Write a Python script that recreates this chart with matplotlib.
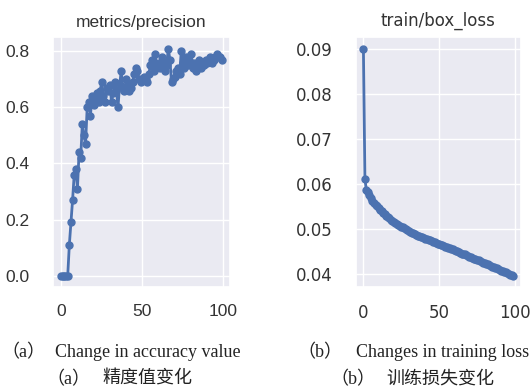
import matplotlib
matplotlib.use("Agg")
import matplotlib.pyplot as plt
import seaborn as sns

# epochs 0..99
epochs = list(range(100))

precision = [
    0.00, 0.00, 0.00, 0.00, 0.00, 0.11, 0.19, 0.27, 0.36, 0.38,
    0.31, 0.44, 0.42, 0.54, 0.50, 0.47, 0.60, 0.62, 0.57, 0.64,
    0.61, 0.63, 0.65, 0.62, 0.66, 0.69, 0.64, 0.62, 0.67, 0.66,
    0.68, 0.62, 0.65, 0.69, 0.66, 0.60, 0.68, 0.73, 0.67, 0.66,
    0.70, 0.68, 0.66, 0.67, 0.69, 0.72, 0.74, 0.73, 0.70, 0.69,
    0.70, 0.71, 0.70, 0.69, 0.72, 0.75, 0.77, 0.73, 0.79, 0.75,
    0.76, 0.74, 0.78, 0.76, 0.73, 0.75, 0.81, 0.77, 0.69, 0.70,
    0.71, 0.73, 0.74, 0.72, 0.80, 0.76, 0.74, 0.78, 0.75, 0.77,
    0.79, 0.74, 0.76, 0.73, 0.75, 0.77, 0.74, 0.76, 0.75, 0.77,
    0.76, 0.77, 0.78, 0.76, 0.77, 0.78, 0.79, 0.78, 0.78, 0.77,
]

box_loss = [
    0.0900, 0.0610, 0.0585, 0.0582, 0.0575, 0.0568, 0.0562, 0.0558, 0.0553, 0.0550,
    0.0546, 0.0542, 0.0539, 0.0535, 0.0532, 0.0529, 0.0526, 0.0523, 0.0520, 0.0518,
    0.0515, 0.0513, 0.0510, 0.0508, 0.0506, 0.0505, 0.0503, 0.0501, 0.0499, 0.0497,
    0.0495, 0.0493, 0.0491, 0.0490, 0.0489, 0.0487, 0.0485, 0.0484, 0.0482, 0.0481,
    0.0480, 0.0478, 0.0477, 0.0475, 0.0474, 0.0473, 0.0471, 0.0470, 0.0469, 0.0467,
    0.0466, 0.0464, 0.0463, 0.0462, 0.0460, 0.0459, 0.0458, 0.0457, 0.0455, 0.0454,
    0.0452, 0.0451, 0.0450, 0.0448, 0.0447, 0.0445, 0.0444, 0.0443, 0.0441, 0.0440,
    0.0438, 0.0437, 0.0435, 0.0434, 0.0432, 0.0431, 0.0430, 0.0428, 0.0427, 0.0425,
    0.0424, 0.0422, 0.0421, 0.0419, 0.0418, 0.0416, 0.0415, 0.0413, 0.0412, 0.0410,
    0.0409, 0.0407, 0.0406, 0.0404, 0.0403, 0.0401, 0.0400, 0.0398, 0.0397, 0.0396,
]

titles = ["metrics/precision", "train/box_loss"]
tags = ["（a）", "（b）"]
captions_en = ["Change in accuracy value", "Changes in training loss"]
captions_zh = ["精度值变化", "训练损失变化"]

sns.set_theme(style="darkgrid")
plt.rcParams['font.family'] = ['DejaVu Sans', 'Noto Sans CJK SC']
blue = "#4C72B0"
W, H = 532, 391

fig = plt.figure(figsize=(5.32, 3.91), dpi=100)
ax1 = fig.add_axes([0.100, 0.266, 0.332, 0.639])
ax2 = fig.add_axes([0.669, 0.266, 0.310, 0.639])

# left panel looks like Arial, right one like DejaVu
setup = [(ax1, precision, titles[0], 'Liberation Sans', 12.5, 7),
         (ax2, box_loss, titles[1], 'DejaVu Sans', 12, 8)]
for ax, y, t, fam, fs, tpad in setup:
    ax.plot(epochs, y, color=blue, marker="o", markersize=5, linewidth=2)
    ax.set_title(t, fontsize=fs, family=fam, color="#333333", pad=tpad)
    ax.set_xticks([0, 50, 100])
    ax.tick_params(axis="x", pad=6)
    ax.tick_params(axis="y", pad=11)
    for lab in ax.get_xticklabels() + ax.get_yticklabels():
        lab.set_fontsize(fs)
        lab.set_family(fam)
        lab.set_color("#333333")

ax1.set_yticks([0.0, 0.2, 0.4, 0.6, 0.8])
ax2.set_yticks([0.04, 0.05, 0.06, 0.07, 0.08, 0.09])
ax1.set_yticklabels(["0.0", "0.2", "0.4", "0.6", "0.8"], family='Liberation Sans', fontsize=12.5, color="#333333")
ax2.set_yticklabels(["0.04", "0.05", "0.06", "0.07", "0.08", "0.09"], family='DejaVu Sans', fontsize=12, color="#333333")

cap_font = ['Liberation Serif', 'Noto Sans CJK SC']
cap_kw = dict(family=cap_font, fontsize=13, color="#222222", va="baseline")
# caption pieces, positions in pixels (x of tag, x of text, baseline y)
fig.text(1 / W, 1 - 357 / H, tags[0], **cap_kw)
fig.text(55 / W, 1 - 357 / H, captions_en[0], **cap_kw)
fig.text(297 / W, 1 - 357 / H, tags[1], **cap_kw)
fig.text(356 / W, 1 - 357 / H, captions_en[1], **cap_kw)
fig.text(46 / W, 1 - 384 / H, tags[0], **cap_kw)
fig.text(102 / W, 1 - 384 / H, captions_zh[0], **cap_kw)
fig.text(330 / W, 1 - 384 / H, tags[1], **cap_kw)
fig.text(386 / W, 1 - 384 / H, captions_zh[1], **cap_kw)

fig.savefig("out.png", dpi=100, facecolor="white")
